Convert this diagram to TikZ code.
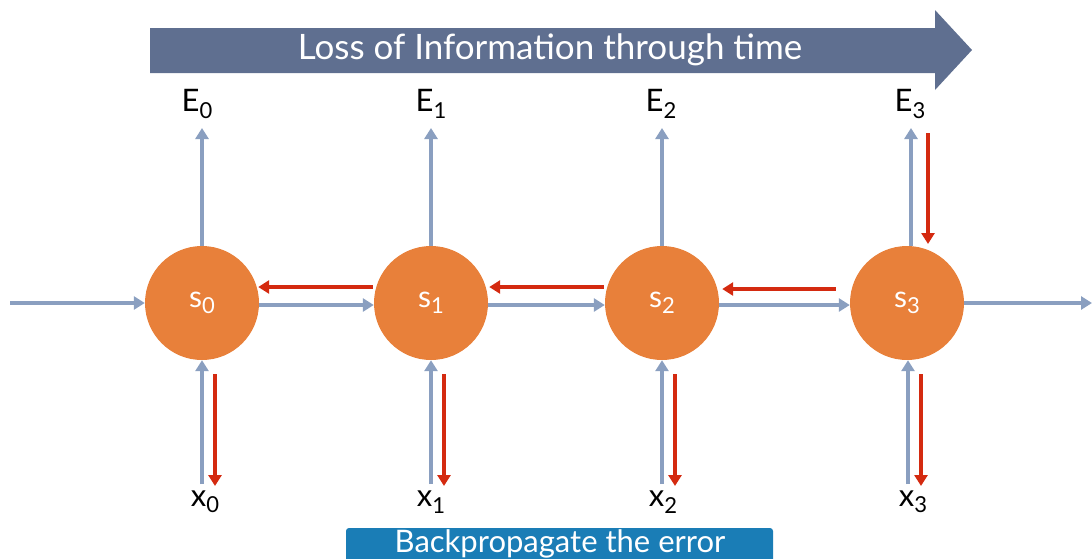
\documentclass[tikz,border=0pt]{standalone}
\usepackage{fontspec}
\setmainfont{Lato}
\usetikzlibrary{arrows.meta}
\definecolor{bluegray}{HTML}{8A9FC0}
\definecolor{banner}{HTML}{5F6F90}
\definecolor{errred}{HTML}{D42A10}
\definecolor{nodeor}{HTML}{E8803A}
\definecolor{boxblue}{HTML}{1A7DB6}
\newcommand{\lbl}[2]{#1\raisebox{-0.4ex}{\fontsize{22}{22}\selectfont #2}}
\begin{document}
\begin{tikzpicture}[x=1pt,y=-1pt,
  state/.style={circle,fill=nodeor,minimum size=114pt,inner sep=0pt,text=white,font=\fontsize{30}{30}\selectfont},
  fwd/.style={draw=bluegray,line width=3.5pt,-{Triangle[length=11pt,width=13pt]}},
  back/.style={draw=errred,line width=3.5pt,-{Triangle[length=11pt,width=13pt]}},
  lab/.style={inner sep=0pt,font=\fontsize{31}{31}\selectfont,text=black}]
\useasboundingbox (0,0) rectangle (1092,558);
% banner
\fill[banner] (150,28) -- (935,28) -- (935,10) -- (972,50) -- (935,90) -- (935,73) -- (150,73) -- cycle;
\node[text=white,font=\fontsize{35}{35}\selectfont] (title) at (550,50) {Loss of Information through time};
% states
\node[state] (s0) at (202,303) {\lbl{s}{0}};
\node[state] (s1) at (431,303) {\lbl{s}{1}};
\node[state] (s2) at (662,303) {\lbl{s}{2}};
\node[state] (s3) at (907,303) {\lbl{s}{3}};
% E labels
\node[lab] (e0) at (197,104) {\lbl{E}{0}};
\node[lab] (e1) at (431,104) {\lbl{E}{1}};
\node[lab] (e2) at (661,104) {\lbl{E}{2}};
\node[lab] (e3) at (910,104) {\lbl{E}{3}};
% x labels
\node[lab] (x0) at (205,502) {\lbl{x}{0}};
\node[lab] (x1) at (431,502) {\lbl{x}{1}};
\node[lab] (x2) at (663,502) {\lbl{x}{2}};
\node[lab] (x3) at (913,502) {\lbl{x}{3}};
% free ends
\coordinate (in) at (10,303);
\coordinate (out) at (1092,303);
% horizontal forward
\draw[fwd] (in) -- (s0.west);
\draw[fwd] ([yshift=-2pt]s0.east) -- ([yshift=-2pt]s1.west);
\draw[fwd] ([yshift=-2pt]s1.east) -- ([yshift=-2pt]s2.west);
\draw[fwd] ([yshift=-2pt]s2.east) -- ([yshift=-2pt]s3.west);
\draw[fwd] (s3.east) -- (out);
% horizontal back
\draw[back] ([yshift=16pt,xshift=-1pt]s1.west) -- ([yshift=16pt,xshift=-1pt]s0.east);
\draw[back] ([yshift=16pt,xshift=-1pt]s2.west) -- ([yshift=16pt,xshift=1pt]s1.east);
\draw[back] ([yshift=14pt,xshift=-14pt]s3.west) -- ([yshift=14pt,xshift=3pt]s2.east);
% vertical up to E
\draw[fwd] (s0.north) -- (202,128);
\draw[fwd] (s1.north) -- (431,128);
\draw[fwd] (s2.north) -- (662,128);
\draw[fwd] ([xshift=4pt]s3.north) -- (911,128);
\draw[back] (928,133) -- (928,244);
% vertical from x
\draw[fwd] (202,484) -- (s0.south);
\draw[fwd] (431,484) -- (s1.south);
\draw[fwd] (662,484) -- (s2.south);
\draw[fwd] (908,484) -- ([xshift=1pt]s3.south);
\draw[back] (215,374) -- (215,486);
\draw[back] (444,374) -- (444,486);
\draw[back] (675,374) -- (675,486);
\draw[back] (921,374) -- (921,486);
% bottom box
\fill[boxblue,rounded corners=3pt] (346,528) rectangle (773,566);
\node[text=white,font=\fontsize{31}{31}\selectfont] (bp) at (560,544) {Backpropagate the error};
\end{tikzpicture}
\end{document}
